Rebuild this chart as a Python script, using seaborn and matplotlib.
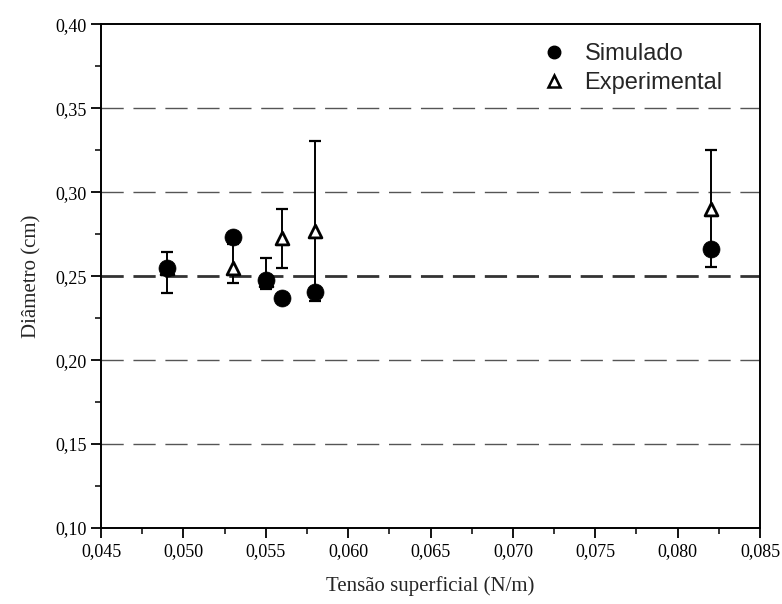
import matplotlib
matplotlib.use("Agg")
import matplotlib.pyplot as plt
from matplotlib.ticker import MultipleLocator, FuncFormatter
from matplotlib.lines import Line2D
import seaborn as sns
import pandas as pd
import numpy as np

# Surface tension (N/m) and bubble diameter (cm)
tension = [0.049, 0.053, 0.055, 0.056, 0.058, 0.082]
diam_sim = [0.255, 0.2735, 0.2477, 0.2368, 0.2408, 0.2662]
diam_exp = [0.255, 0.255, 0.248, 0.273, 0.277, 0.290]
exp_low = [0.2398, 0.2458, 0.2422, 0.2547, 0.2354, 0.2556]
exp_high = [0.2642, 0.2690, 0.2606, 0.2898, 0.3307, 0.3251]
grid_levels = [0.15, 0.20, 0.30, 0.35]
ref_level = 0.25

sns.set_style("ticks")
serif = "Liberation Serif"
sans = "Liberation Sans"

df_sim = pd.DataFrame({"x": tension, "y": diam_sim})
df_exp = pd.DataFrame({"x": tension, "y": diam_exp})

fig = plt.figure(figsize=(7.82, 6.04), dpi=100)
ax = fig.add_axes([0.1292, 0.1258, 0.8427, 0.834])

for g in grid_levels:
    ax.axhline(g, color="#555555", lw=1.0, ls=(0, (16, 7)), zorder=1)
ax.axhline(ref_level, color="#333333", lw=2.0, ls=(0, (8, 3.5)), zorder=1)

yerr = np.vstack([np.array(diam_exp) - np.array(exp_low),
                  np.array(exp_high) - np.array(diam_exp)])
ax.errorbar(tension, diam_exp, yerr=yerr, fmt="none", ecolor="black",
            elinewidth=1.4, capsize=4, capthick=1.6, zorder=2)

sns.scatterplot(data=df_exp, x="x", y="y", ax=ax, marker="^", s=85,
                color="white", edgecolor="black", linewidth=2.0, zorder=3,
                legend=False)
sns.scatterplot(data=df_sim, x="x", y="y", ax=ax, marker="o", s=150,
                color="black", edgecolor="black", linewidth=0.5, zorder=4,
                legend=False)

ax.set_xlim(0.045, 0.085)
ax.set_ylim(0.10, 0.40)
ax.xaxis.set_major_locator(MultipleLocator(0.005))
ax.xaxis.set_minor_locator(MultipleLocator(0.0025))
ax.yaxis.set_major_locator(MultipleLocator(0.05))
ax.yaxis.set_minor_locator(MultipleLocator(0.025))
ax.xaxis.set_major_formatter(FuncFormatter(lambda v, p: f"{v:.3f}".replace(".", ",")))
ax.yaxis.set_major_formatter(FuncFormatter(lambda v, p: f"{v:.2f}".replace(".", ",")))
ax.tick_params(which="major", direction="out", length=7, width=1.3,
               labelsize=13, colors="black")
ax.tick_params(which="minor", direction="out", length=4, width=1.3)
for lab in ax.get_xticklabels() + ax.get_yticklabels():
    lab.set_fontfamily(serif)
for sp in ax.spines.values():
    sp.set_linewidth(1.4)
    sp.set_color("black")

ax.set_xlabel("Tensão superficial (N/m)", fontsize=15, family=serif, labelpad=12)
ax.set_ylabel("Diâmetro (cm)", fontsize=15, family=serif, labelpad=10)

handles = [
    Line2D([], [], marker="o", color="black", ls="none", markersize=9),
    Line2D([], [], marker="^", markerfacecolor="white", markeredgecolor="black",
           markeredgewidth=1.8, ls="none", markersize=9),
]
ax.legend(handles, ["Simulado", "Experimental"], loc="upper right",
          bbox_to_anchor=(0.972, 1.0),
          frameon=False, prop={"family": sans, "size": 17},
          handletextpad=0.3, labelspacing=0.3, borderaxespad=0.4)

fig.savefig("out.png", dpi=100, facecolor="white")
